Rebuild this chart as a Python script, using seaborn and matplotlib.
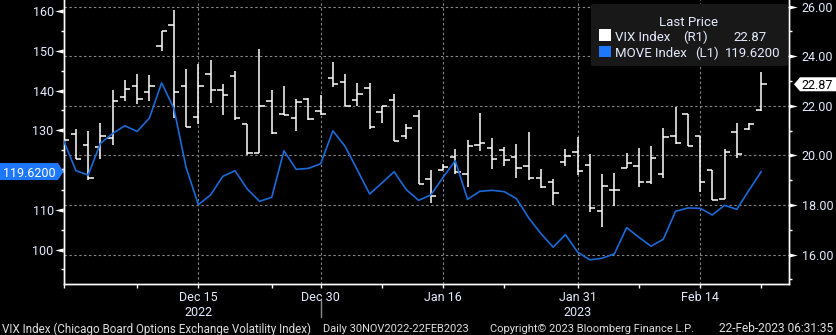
import numpy as np
import pandas as pd
import matplotlib
matplotlib.use("Agg")
import matplotlib.pyplot as plt
import matplotlib.transforms as mtransforms
from matplotlib.patches import Polygon, Rectangle, FancyBboxPatch
from matplotlib.path import Path
import seaborn as sns

# ---------------- data ----------------
dates = ["2022-11-30", "2022-12-01", "2022-12-02", "2022-12-05", "2022-12-06", "2022-12-07",
         "2022-12-08", "2022-12-09", "2022-12-12", "2022-12-13", "2022-12-14", "2022-12-15",
         "2022-12-16", "2022-12-19", "2022-12-20", "2022-12-21", "2022-12-22", "2022-12-23",
         "2022-12-27", "2022-12-28", "2022-12-29", "2022-12-30", "2023-01-03", "2023-01-04",
         "2023-01-05", "2023-01-06", "2023-01-09", "2023-01-10", "2023-01-11", "2023-01-12",
         "2023-01-13", "2023-01-16", "2023-01-17", "2023-01-18", "2023-01-19", "2023-01-20",
         "2023-01-23", "2023-01-24", "2023-01-25", "2023-01-26", "2023-01-27", "2023-01-30",
         "2023-01-31", "2023-02-01", "2023-02-02", "2023-02-03", "2023-02-06", "2023-02-07",
         "2023-02-08", "2023-02-09", "2023-02-10", "2023-02-13", "2023-02-14", "2023-02-15",
         "2023-02-16", "2023-02-17", "2023-02-20", "2023-02-21"]

vix_open = [21.60, 20.85, 20.44, 20.35, 20.71, 22.34, 22.82, 22.55, 24.40, 25.26,
            22.82, 21.53, 23.27, 22.62, 23.19, 21.25, 20.08, 22.19, 21.69, 21.49,
            22.26, 21.81, 23.11, 22.96, 22.23, 22.70, 21.77, 22.23, 20.80, 21.57,
            19.03, 19.43, 19.92, 19.27, 20.44, 20.28, 20.20, 19.93, 19.57, 19.07,
            18.91, 19.74, 20.12, 19.63, 17.74, 18.60, 19.51, 19.57, 18.91, 19.24,
            20.78, 21.67, 20.78, 19.40, 18.25, 20.93, 21.05, 21.83]
vix_high = [22.64, 21.05, 20.98, 21.29, 22.64, 23.04, 23.28, 23.23, 25.03, 25.87,
            23.47, 23.69, 23.85, 22.88, 23.40, 21.26, 24.28, 22.64, 22.80, 22.27,
            22.30, 22.42, 23.77, 23.28, 22.92, 22.92, 21.99, 22.47, 21.26, 21.83,
            19.43, 19.65, 20.24, 20.62, 21.73, 20.72, 20.33, 20.48, 20.94, 19.47,
            19.04, 20.25, 20.75, 20.04, 19.27, 19.31, 20.10, 20.28, 20.39, 21.12,
            21.94, 21.67, 20.78, 19.40, 20.25, 21.29, 21.29, 23.35]
vix_low = [20.35, 19.84, 19.00, 19.84, 20.44, 22.20, 22.08, 22.20, 24.22, 21.49,
           21.13, 21.26, 22.12, 21.64, 21.42, 20.00, 20.08, 20.85, 21.64, 20.99,
           21.42, 21.65, 22.77, 21.99, 22.00, 21.05, 21.32, 20.60, 20.67, 18.83,
           18.06, 19.40, 19.27, 18.73, 20.19, 19.47, 19.58, 19.07, 19.00, 18.69,
           18.00, 19.58, 19.20, 17.72, 17.12, 17.97, 19.51, 18.73, 18.84, 19.07,
           20.48, 20.37, 18.52, 18.22, 18.25, 19.88, 21.02, 21.81]
vix_close = [20.62, 19.84, 19.07, 20.78, 22.19, 22.66, 22.29, 22.82, 25.02, 22.54,
             21.13, 22.82, 22.62, 22.42, 21.49, 20.08, 21.98, 20.89, 21.65, 22.15,
             21.45, 21.68, 22.90, 22.00, 22.46, 21.13, 21.98, 20.60, 21.10, 18.84,
             18.38, 19.54, 19.35, 20.37, 20.52, 19.86, 19.82, 19.51, 19.10, 18.73,
             18.49, 19.98, 19.39, 17.88, 18.76, 18.61, 19.70, 18.93, 19.90, 20.75,
             20.51, 20.37, 18.91, 18.22, 20.15, 20.04, 21.26, 22.87]
move = [127.36, 119.83, 118.74, 126.69, 129.20, 131.13, 129.71, 133.05, 141.92, 135.56,
        120.67, 111.30, 113.72, 118.41, 119.83, 115.23, 112.13, 113.14, 124.85, 120.17,
        120.42, 121.59, 129.87, 125.94, 120.00, 113.97, 116.74, 119.58, 115.06, 112.38,
        113.72, 118.16, 122.34, 112.64, 114.64, 114.90, 114.56, 112.80, 107.95, 104.00,
        100.59, 103.77, 99.33, 97.41, 97.82, 98.91, 105.52, 103.10, 100.84, 102.60,
        109.62, 110.46, 110.38, 108.70, 111.13, 110.13, 114.90, 119.62]

major_tick_dates = ["2022-12-15", "2022-12-30", "2023-01-16", "2023-01-31", "2023-02-14"]
major_tick_labels = ["Dec 15\n2022", "Dec 30", "Jan 16", "Jan 31\n2023", "Feb 14"]
minor_tick_dates = ["2022-11-30", "2022-12-08", "2022-12-23", "2023-01-09",
                    "2023-01-23", "2023-02-07", "2023-02-21"]
year_break_date = "2022-12-30"

vix_major = [16, 18, 20, 22, 24, 26]
vix_minor = [15, 17, 19, 21, 23, 25]
move_major = [100, 110, 120, 130, 140, 150, 160]
move_minor = [95, 105, 115, 125, 135, 145, 155]

footer_texts = ["VIX Index (Chicago Board Options Exchange Volatility Index)",
                "Daily 30NOV2022-22FEB2023",
                "Copyright\u00a9 2023 Bloomberg Finance L.P.",
                "22-Feb-2023 06:31:35"]

# ---------------- style ----------------
sns.set_theme(style="ticks")
plt.rcParams["font.family"] = ["Roboto", "DejaVu Sans"]
plt.rcParams["axes.unicode_minus"] = False

W, H = 837, 335
DPI = 100
BG = "black"
BLUE_LINE = "#1a6ad8"
BLUE_BOX = "#1e78ff"
TXT = "#e4eaff"
GRID = "#858585"
FS = 9

fig = plt.figure(figsize=(W / DPI, H / DPI), dpi=DPI, facecolor=BG)
L, R, B, T = 63.7, 789.0, 284.3, 0.0
ax = fig.add_axes([L / W, 1 - B / H, (R - L) / W, (B - T) / H])
ax.set_facecolor(BG)
ax2 = ax.twinx()
ax2.patch.set_visible(False)

df = pd.DataFrame({"date": pd.to_datetime(dates), "open": vix_open, "high": vix_high,
                   "low": vix_low, "close": vix_close, "move": move})
df["pos"] = np.arange(len(df))
pos_of = {d: i for i, d in enumerate(dates)}

# VIX OHLC bars on primary axis (right side)
tick_w = 0.44
ax.vlines(df["pos"], df["low"], df["high"], color="white", lw=1.1, zorder=3)
ax.hlines(df["open"], df["pos"] - tick_w, df["pos"], color="white", lw=1.1, zorder=3)
ax.hlines(df["close"], df["pos"], df["pos"] + tick_w, color="white", lw=1.1, zorder=3)

# MOVE line on secondary axis (left side)
sns.lineplot(data=df, x="pos", y="move", ax=ax2, color=BLUE_LINE, lw=1.2, zorder=4)

ax.set_xlim(0, 59.27)
ax.set_ylim(14.8, 26.27)
ax2.set_ylim(91.26, 162.77)

# y axes
ax.yaxis.tick_right()
ax.yaxis.set_label_position("right")
ax2.yaxis.tick_left()
ax2.yaxis.set_label_position("left")
for a in (ax, ax2):
    a.set_ylabel("")
    a.set_xlabel("")

ax.set_yticks(vix_major)
ax.set_yticklabels([f"{v:.2f}" for v in vix_major])
ax.set_yticks(vix_minor, minor=True)
ax2.set_yticks(move_major)
# the last-value flag covers the tick label that lies under it
ax2.set_yticklabels(["" if abs(v - move[-1]) < 3 else f"{v:d}" for v in move_major])
ax2.set_yticks(move_minor, minor=True)

ax.tick_params(axis="y", which="major", length=0, pad=9.3, labelsize=FS, labelcolor=TXT,
               right=True, left=False, labelright=True, labelleft=False)
ax.tick_params(axis="y", which="minor", length=2.5, width=1, color="white", direction="out",
               right=True, left=False)
ax2.tick_params(axis="y", which="major", length=0, pad=7.2, labelsize=FS, labelcolor=TXT,
                left=True, right=False, labelleft=True, labelright=False)
ax2.tick_params(axis="y", which="minor", length=2.5, width=1, color="white", direction="out",
                left=True, right=False)

# x axis
ax.set_xticks([pos_of[d] for d in major_tick_dates])
ax.set_xticklabels(major_tick_labels, linespacing=1.25)
ax.set_xticks([pos_of[d] for d in minor_tick_dates], minor=True)
ax.tick_params(axis="x", which="both", length=3, width=1, color="white", direction="out",
               labelsize=FS, labelcolor=TXT, pad=1.5)
ax2.tick_params(axis="x", which="both", length=0)

# grid
ax.grid(True, which="major", axis="both", color=GRID, lw=0.8, ls=(0, (2.2, 2.2)))
ax.set_axisbelow(True)
ax2.grid(False)

for a in (ax, ax2):
    a.spines["top"].set_visible(False)
    for s in ("left", "right", "bottom"):
        a.spines[s].set_color("white")
        a.spines[s].set_linewidth(1.0)

# triangle tick flags
def tri(direction):
    if direction == "right":
        verts = [(-1, -0.5), (1, 0), (-1, 0.5), (-1, -0.5)]
    else:
        verts = [(1, -0.5), (-1, 0), (1, 0.5), (1, -0.5)]
    return Path(verts, [Path.MOVETO, Path.LINETO, Path.LINETO, Path.CLOSEPOLY])

tr_r = mtransforms.blended_transform_factory(ax.transAxes, ax.transData) + \
    mtransforms.ScaledTranslation(4.2 / DPI, 0, fig.dpi_scale_trans)
ax.plot(np.ones(len(vix_major)), vix_major, ls="none", marker=tri("right"), ms=6,
        color="white", mec="none", transform=tr_r, clip_on=False)
tr_l = mtransforms.blended_transform_factory(ax2.transAxes, ax2.transData) + \
    mtransforms.ScaledTranslation(-4.5 / DPI, 0, fig.dpi_scale_trans)
ax2.plot(np.zeros(len(move_major)), move_major, ls="none", marker=tri("left"), ms=6,
         color="white", mec="none", transform=tr_l, clip_on=False)

# helpers in pixel coords (y from top)
def fx(x):
    return x / W

def fy(y):
    return 1 - y / H

# year separator line
tr_sep = mtransforms.blended_transform_factory(ax.transData, fig.transFigure)
ax.plot([pos_of[year_break_date]] * 2, [fy(300), fy(317)], color="#8a8a8a", lw=1,
        transform=tr_sep, clip_on=False)

# last value labels
fig.canvas.draw()
renderer = fig.canvas.get_renderer()
yc_move = H - ax2.transData.transform((0, move[-1]))[1]
yc_vix = H - ax.transData.transform((0, vix_close[-1]))[1]

pts = [(0, yc_move - 8.5), (58, yc_move - 8.5), (63.5, yc_move), (58, yc_move + 8.5),
       (0, yc_move + 8.5)]
fig.add_artist(Polygon([(fx(a), fy(b)) for a, b in pts], closed=True, fc=BLUE_BOX, ec="none",
                       transform=fig.transFigure))
fig.text(fx(3), fy(yc_move), f"{move[-1]:.4f}", color="white", fontsize=FS, ha="left",
         va="center_baseline")

pts = [(794, yc_vix), (800, yc_vix - 7), (837, yc_vix - 7), (837, yc_vix + 7), (800, yc_vix + 7)]
fig.add_artist(Polygon([(fx(a), fy(b)) for a, b in pts], closed=True, fc="white", ec="none",
                       transform=fig.transFigure))
fig.text(fx(801), fy(yc_vix), f"{vix_close[-1]:.2f}", color="black", fontsize=FS, ha="left",
         va="center_baseline")

# legend box
fig.add_artist(FancyBboxPatch((fx(591), fy(66)), fx(788) - fx(591), fy(4) - fy(66),
                              boxstyle="round,pad=0,rounding_size=0.004", fc="#181818",
                              ec="none", transform=fig.transFigure))
LFS = FS + 0.5
fig.text(fx(689), fy(20.7), "Last Price", color=TXT, fontsize=LFS, ha="center",
         va="center_baseline")
fig.add_artist(Rectangle((fx(599), fy(41)), fx(11.5), fy(29.5) - fy(41), fc="white",
                         ec="none", transform=fig.transFigure))
fig.add_artist(Rectangle((fx(599), fy(57)), fx(11.5), fy(45.5) - fy(57), fc=BLUE_BOX,
                         ec="none", transform=fig.transFigure))
fig.text(fx(615), fy(35.8), "VIX Index", color=TXT, fontsize=LFS, ha="left",
         va="center_baseline")
fig.text(fx(683), fy(35.8), "(R1)", color=TXT, fontsize=LFS, ha="left", va="center_baseline")
fig.text(fx(767), fy(35.8), f"{vix_close[-1]:.2f}", color=TXT, fontsize=LFS, ha="right",
         va="center_baseline")
fig.text(fx(615), fy(51.8), "MOVE Index", color=TXT, fontsize=LFS, ha="left",
         va="center_baseline")
fig.text(fx(695), fy(51.8), "(L1)", color=TXT, fontsize=LFS, ha="left", va="center_baseline")
fig.text(fx(781), fy(51.8), f"{move[-1]:.4f}", color=TXT, fontsize=LFS, ha="right",
         va="center_baseline")

# footer: fit each piece into its span
FOOT = "#e0e0e0"
spans = [(2, 313), (323, 468), (490, 696), (719, 834)]
for txt, (x0, x1) in zip(footer_texts, spans):
    t = fig.text(fx(x0), fy(327.5), txt, color=FOOT, fontsize=FS, ha="left",
                 va="center_baseline")
    w = t.get_window_extent(renderer).width
    t.set_fontsize(FS * (x1 - x0) / w)

fig.savefig("out.png", dpi=DPI, facecolor=BG)
